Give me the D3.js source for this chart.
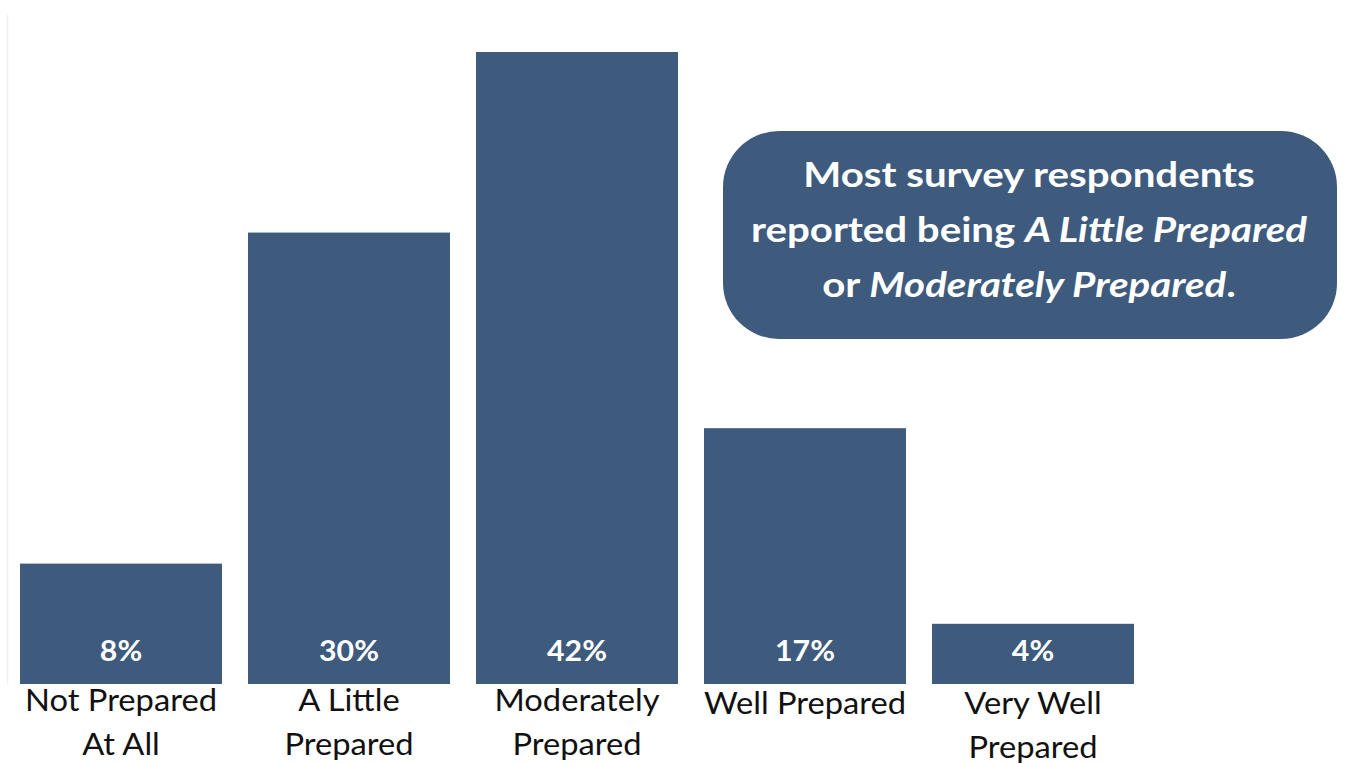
<!DOCTYPE html>
<html>
<head>
<meta charset="utf-8">
<script src="https://cdn.jsdelivr.net/npm/d3@7/dist/d3.min.js"></script>
<style>
  html, body { margin: 0; padding: 0; background: #fff; }
  svg { display: block; font-family: Lato, "Open Sans", sans-serif; }
</style>
</head>
<body>
<svg id="chart" width="1345" height="764"></svg>
<script>
// Survey preparedness levels and share of respondents (%)
const categories = ["Not Prepared At All", "A Little Prepared", "Moderately Prepared", "Well Prepared", "Very Well Prepared"];
const labelLines = [["Not Prepared", "At All"], ["A Little", "Prepared"], ["Moderately", "Prepared"], ["Well Prepared"], ["Very Well", "Prepared"]];
const labelOffsets = [0, 0, 0, 3, 3];
const values = [8, 30, 42, 17, 4];
const calloutLines = [
  [{ t: "Most survey respondents", i: false }],
  [{ t: "reported being ", i: false }, { t: "A Little Prepared", i: true }],
  [{ t: "or ", i: false }, { t: "Moderately Prepared", i: true }, { t: ".", i: false }]
];

const barColor = "#3e5b7e";
const svg = d3.select("#chart");

const x = d3.scaleBand()
  .domain(categories)
  .range([7, 1147])
  .paddingInner(26 / 228)
  .paddingOuter(13 / 228);

const y = d3.scaleLinear()
  .domain([0, 42])
  .range([684, 52]);

// faint left axis line
svg.append("line")
  .attr("x1", 7.5).attr("x2", 7.5)
  .attr("y1", 15).attr("y2", y(0))
  .attr("stroke", "#efefef").attr("stroke-width", 1.5);

// bars
svg.selectAll("rect.bar")
  .data(values)
  .join("rect")
  .attr("class", "bar")
  .attr("x", (d, i) => x(categories[i]))
  .attr("y", d => y(d))
  .attr("width", x.bandwidth())
  .attr("height", d => y(0) - y(d))
  .attr("fill", barColor);

// value labels inside bars
svg.selectAll("g.val")
  .data(values)
  .join("g")
  .attr("class", "val")
  .attr("transform", (d, i) => `translate(${x(categories[i]) + x.bandwidth() / 2},${y(0) - 23}) scale(1.08,1)`)
  .append("text")
  .attr("text-anchor", "middle")
  .attr("fill", "#fff")
  .attr("font-size", 28)
  .attr("font-weight", 700)
  .text(d => d + "%");

// category labels
const cat = svg.selectAll("text.cat")
  .data(categories)
  .join("text")
  .attr("class", "cat")
  .attr("text-anchor", "middle")
  .attr("fill", "#111")
  .attr("font-size", 30)
  .attr("transform", (d, i) => `translate(${x(d) + x.bandwidth() / 2},${711 + labelOffsets[i]}) scale(1.09,1)`);

cat.selectAll("tspan")
  .data((d, i) => labelLines[i])
  .join("tspan")
  .attr("x", 0)
  .attr("y", (d, j) => j * 44)
  .text(d => d);

// callout box
const box = svg.append("g");
box.append("rect")
  .attr("x", 723).attr("y", 131)
  .attr("width", 614).attr("height", 208)
  .attr("rx", 56).attr("ry", 56)
  .attr("fill", barColor);

const cx = 723 + 614 / 2 - 1;
calloutLines.forEach((line, k) => {
  const t = box.append("text")
    .attr("transform", `translate(${cx},${187 + k * 55}) scale(1.15,1)`)
    .attr("text-anchor", "middle")
    .attr("fill", "#fff")
    .attr("font-size", 35)
    .attr("font-weight", 700);
  line.forEach(seg => {
    t.append("tspan")
      .attr("font-style", seg.i ? "italic" : "normal")
      .text(seg.t);
  });
});
</script>
</body>
</html>
